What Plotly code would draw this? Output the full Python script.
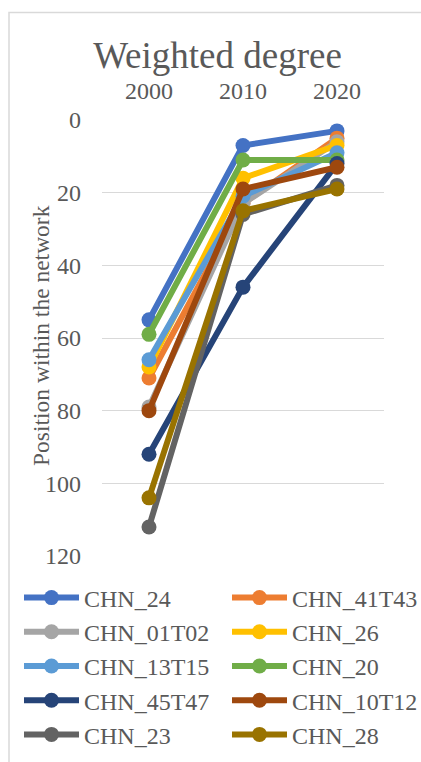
import plotly.graph_objects as go

# Network position (rank by weighted degree) of each sector in each year
years = ["2000", "2010", "2020"]

sectors = ["CHN_24", "CHN_41T43", "CHN_01T02", "CHN_26", "CHN_13T15",
           "CHN_20", "CHN_45T47", "CHN_10T12", "CHN_23", "CHN_28"]

chn_24 = [55, 7, 3]
chn_41t43 = [71, 23, 5]
chn_01t02 = [79, 23, 6]
chn_26 = [68, 16, 7]
chn_13t15 = [66, 21, 9]
chn_20 = [59, 11, 11]
chn_45t47 = [92, 46, 12]
chn_10t12 = [80, 19, 13]
chn_23 = [112, 26, 18]
chn_28 = [104, 25, 19]

series = [chn_24, chn_41t43, chn_01t02, chn_26, chn_13t15,
          chn_20, chn_45t47, chn_10t12, chn_23, chn_28]

colors = ["#4472C4", "#ED7D31", "#A5A5A5", "#FFC000", "#5B9BD5",
          "#70AD47", "#264478", "#9E480E", "#636363", "#997300"]

y_ticks = [0, 20, 40, 60, 80, 100, 120]

FONT = "Liberation Serif"
TEXT = "#595959"
GRID = "#D9D9D9"

W, H = 421, 762
L, R, T, B = 102, 37, 120, 206
pw, ph = W - L - R, H - T - B

def px_x(p):
    return (p - L) / pw

def px_y(p):
    return (H - B - p) / ph

fig = go.Figure()
for i, (name, vals, col) in enumerate(zip(sectors, series, colors)):
    fig.add_trace(go.Scatter(
        x=years, y=vals, name=name, mode="lines+markers",
        line=dict(color=col, width=6),
        marker=dict(color=col, size=15, line=dict(width=0)),
        # two legend columns, filled row by row
        legend="legend" if i % 2 == 0 else "legend2",
    ))

legend_common = dict(
    orientation="v", xanchor="left", yanchor="top", yref="paper",
    y=px_y(575.5), font=dict(family=FONT, size=24, color=TEXT),
    itemwidth=55, bgcolor="rgba(0,0,0,0)", traceorder="normal",
)

fig.update_layout(
    width=W, height=H,
    margin=dict(l=L, r=R, t=T, b=B, autoexpand=False),
    paper_bgcolor="white", plot_bgcolor="white",
    font=dict(family=FONT, color=TEXT, size=24),
    title=dict(text="Weighted degree", x=217.5 / W, xanchor="center",
               y=1 - 55 / H, yanchor="middle",
               font=dict(family=FONT, size=37, color=TEXT)),
    xaxis=dict(type="category", side="top", range=[-0.5, 2.5],
               showgrid=False, zeroline=False, showline=False,
               ticks="", ticklabelstandoff=15,
               tickfont=dict(family=FONT, size=24, color=TEXT)),
    yaxis=dict(range=[120, 0], tickvals=y_ticks, showgrid=True,
               gridcolor=GRID, gridwidth=1, zeroline=False, showline=False,
               ticks="", ticklabelstandoff=20,
               tickfont=dict(family=FONT, size=24, color=TEXT)),
    legend=dict(x=px_x(19), **legend_common),
    legend2=dict(x=px_x(227), **legend_common),
    showlegend=True,
)

# Y-axis title placed over the tick label column
fig.add_annotation(text="Position within the network", textangle=-90,
                   xref="paper", yref="paper", x=px_x(41), y=px_y(336),
                   xanchor="center", yanchor="middle", showarrow=False,
                   font=dict(family=FONT, size=23.5, color=TEXT))

# Chart area outline
fig.add_shape(type="rect", xref="paper", yref="paper",
              x0=px_x(9), x1=px_x(440), y0=px_y(780), y1=px_y(12.5),
              line=dict(color=GRID, width=1.5), fillcolor="rgba(0,0,0,0)",
              layer="below")

fig.write_html("out.html")
